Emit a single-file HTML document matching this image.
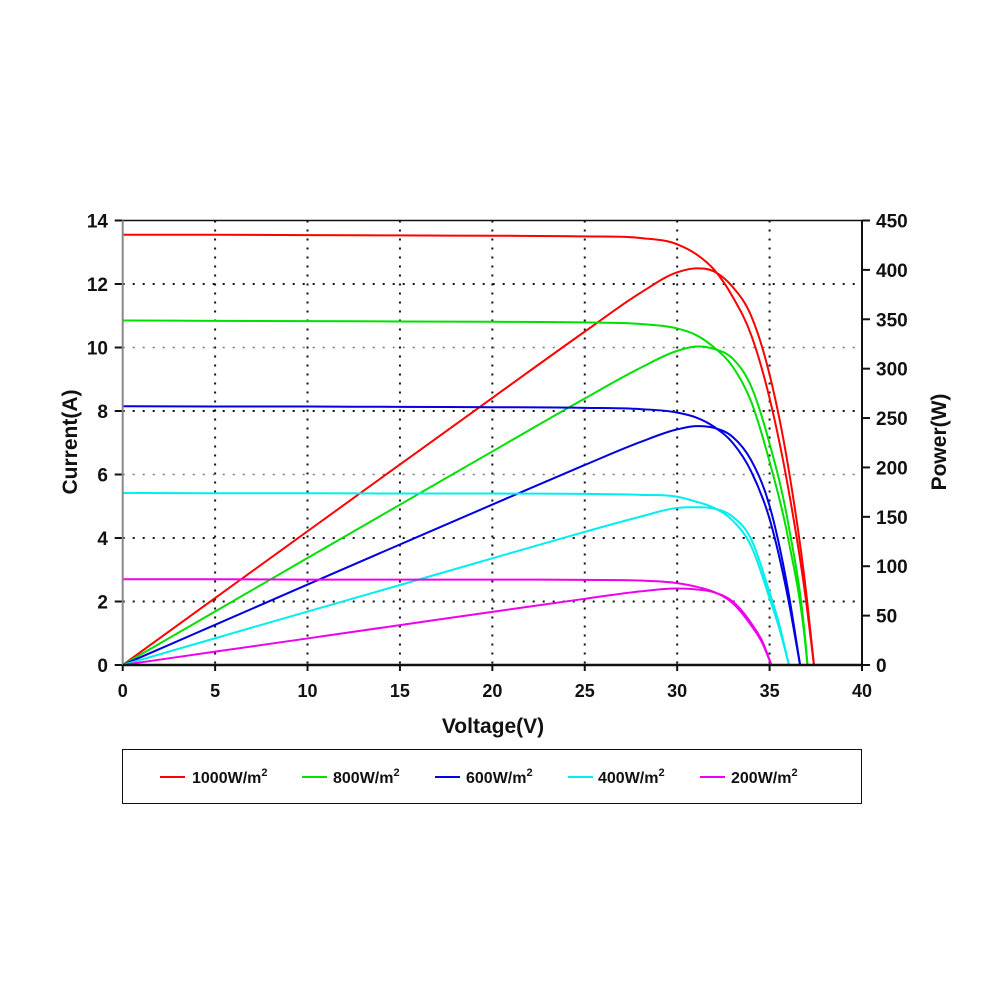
<!DOCTYPE html>
<html><head><meta charset="utf-8">
<style>
html,body{margin:0;padding:0;background:#fff;}
svg text{font-family:"Liberation Sans",Arial,sans-serif;font-weight:bold;fill:#111;}
</style></head>
<body>
<svg id="chart" width="1000" height="1000" viewBox="0 0 1000 1000" xmlns="http://www.w3.org/2000/svg">
<g id="grid"></g>
<g id="curves"></g>
<g id="axes"></g>
<text x="493" y="733" font-size="21" text-anchor="middle">Voltage(V)</text>
<text transform="translate(77,442) rotate(-90)" font-size="21" text-anchor="middle">Current(A)</text>
<text transform="translate(946,442) rotate(-90)" font-size="21" text-anchor="middle">Power(W)</text>
<g>
<rect x="122.5" y="749.5" width="739" height="54" fill="#fff" stroke="#111" stroke-width="1"/>
<g><line x1="160" y1="777" x2="185" y2="777" stroke="#ff0000" stroke-width="2"/><text x="192" y="783" font-size="16">1000W/m<tspan font-size="11" dy="-7">2</tspan></text></g>
<g><line x1="302" y1="777" x2="327" y2="777" stroke="#00e000" stroke-width="2"/><text x="333" y="783" font-size="16">800W/m<tspan font-size="11" dy="-7">2</tspan></text></g>
<g><line x1="435" y1="777" x2="460" y2="777" stroke="#0000e0" stroke-width="2"/><text x="466" y="783" font-size="16">600W/m<tspan font-size="11" dy="-7">2</tspan></text></g>
<g><line x1="568" y1="777" x2="593" y2="777" stroke="#00eeee" stroke-width="2"/><text x="598" y="783" font-size="16">400W/m<tspan font-size="11" dy="-7">2</tspan></text></g>
<g><line x1="700" y1="777" x2="725" y2="777" stroke="#ee00ee" stroke-width="2"/><text x="731" y="783" font-size="16">200W/m<tspan font-size="11" dy="-7">2</tspan></text></g>
</g>
</svg>
<script>
const xTicks=[0,5,10,15,20,25,30,35,40];
const iTicks=[0,2,4,6,8,10,12,14];
const pTicks=[0,50,100,150,200,250,300,350,400,450];
const seriesNames=["1000","800","600","400","200"];
const seriesColors=["#ff0000","#00e000","#0000e0","#00eeee","#ee00ee"];
const v1000=[0,5,10,15,20,25,28,30,31,32,33,34,35,36,37,37.4];
const i1000=[13.55,13.55,13.54,13.53,13.52,13.5,13.45,13.25,12.95,12.45,11.6,10.4,8.4,5.6,1.9,0];
const p1000=[0,67.8,135.4,203,270.4,337.5,376.6,397.5,401.5,398.4,382.8,353.6,294,201.6,70.3,0];
const v800=[0,5,10,15,20,25,28,30,31,32,33,34,35,36,37,37.05];
const i800=[10.85,10.84,10.83,10.82,10.81,10.79,10.74,10.6,10.4,10.0,9.4,8.3,6.4,4.0,0.3,0];
const p800=[0,54.2,108.3,162.3,216.2,269.8,300.7,318,322.4,320,310.2,282.2,224,144,11.1,0];
const v600=[0,5,10,15,20,25,28,30,31,32,33,34,35,36,36.65];
const i600=[8.15,8.14,8.14,8.13,8.12,8.1,8.06,7.95,7.8,7.5,7.0,6.1,4.6,2.1,0];
const p600=[0,40.7,81.4,122,162.4,202.5,225.7,238.5,241.8,240,231,207.4,161,75.6,0];
const v400=[0,5,10,15,20,25,28,30,31,32,33,34,35,35.5,36.05];
const i400=[5.42,5.41,5.41,5.4,5.4,5.39,5.36,5.3,5.15,4.95,4.55,3.75,2.1,1.2,0];
const p400=[0,27.1,54.1,81,108,134.8,150.1,159,159.7,158.4,150.2,127.5,73.5,42.6,0];
const v200=[0,5,10,15,20,25,28,30,31,32,33,34,34.6,35.1];
const i200=[2.7,2.7,2.69,2.69,2.69,2.68,2.66,2.58,2.47,2.3,1.95,1.25,0.7,0];
const p200=[0,13.5,26.9,40.4,53.8,67,74.5,77.4,76.6,73.6,64.4,42.5,24.2,0];

const X0=122.7,X1=862,Y0=665,Y1=220.5;
const xS=v=>X0+(v/40)*(X1-X0);
const iS=a=>Y0-(a/14)*(Y0-Y1);
const pS=w=>Y0-(w/450)*(Y0-Y1);
const NS="http://www.w3.org/2000/svg";
function mk(tag,attrs,parent){const e=document.createElementNS(NS,tag);for(const k in attrs)e.setAttribute(k,attrs[k]);parent.appendChild(e);return e;}
const grid=document.getElementById('grid'),axes=document.getElementById('axes'),curves=document.getElementById('curves');

xTicks.forEach(t=>{
  const x=xS(t);
  if(t>0&&t<40){const g=mk('line',{x1:x,y1:Y1,x2:x,y2:Y0,stroke:'#111','stroke-width':2,'stroke-dasharray':'2 7'},grid);
  
  }
  const tk=mk('line',{x1:x,y1:Y0,x2:x,y2:Y0+6,stroke:'#111','stroke-width':2},axes);
  
  
  const tx=mk('text',{x:x,y:697,'font-size':18,'text-anchor':'middle'},axes);tx.textContent=t;
  
  
});
iTicks.forEach(t=>{
  const y=iS(t);
  if(t>0&&t<14){const light=(t===6||t===10);const g=mk('line',{x1:X0,y1:y,x2:X1,y2:y,stroke:light?'#777':'#111','stroke-width':light?1.5:2,'stroke-dasharray':'2 8'},grid);
  
  }
  const tk=mk('line',{x1:X0-8,y1:y,x2:X0,y2:y,stroke:'#111','stroke-width':2},axes);
  
  
  const tx=mk('text',{x:108,y:y+7,'font-size':19,'text-anchor':'end'},axes);tx.textContent=t;
  
  
});
pTicks.forEach(t=>{
  const y=pS(t);
  const tk=mk('line',{x1:X1,y1:y,x2:X1+8,y2:y,stroke:'#111','stroke-width':2},axes);
  
  
  const tx=mk('text',{x:876,y:y+7,'font-size':19},axes);tx.textContent=t;
  
  
});
const fr=mk('line',{x1:X0,y1:Y1,x2:X1,y2:Y1,stroke:'#111','stroke-width':1.5},axes);

const la=mk('line',{x1:X0,y1:Y1,x2:X0,y2:Y0,stroke:'#888','stroke-width':2},axes);

const ra=mk('line',{x1:X1,y1:Y1,x2:X1,y2:Y0,stroke:'#111','stroke-width':2},axes);

const ba=mk('line',{x1:X0,y1:Y0,x2:X1,y2:Y0,stroke:'#111','stroke-width':2.5},axes);


function smoothPath(xs,ys){
  const n=xs.length,d=[],m=[];
  for(let i=0;i<n-1;i++)d.push((ys[i+1]-ys[i])/(xs[i+1]-xs[i]));
  for(let i=0;i<n;i++){
    if(i===0)m.push(d[0]);else if(i===n-1)m.push(d[n-2]);
    else{const h0=xs[i]-xs[i-1],h1=xs[i+1]-xs[i];m.push((d[i-1]*h1+d[i]*h0)/(h0+h1));}
  }
  let p='M'+xs[0].toFixed(2)+','+ys[0].toFixed(2);
  for(let i=0;i<n-1;i++){
    const h=(xs[i+1]-xs[i])/3;
    p+=' C'+(xs[i]+h).toFixed(2)+','+(ys[i]+m[i]*h).toFixed(2)+' '+(xs[i+1]-h).toFixed(2)+','+(ys[i+1]-m[i+1]*h).toFixed(2)+' '+xs[i+1].toFixed(2)+','+ys[i+1].toFixed(2);
  }
  return p;
}
const V=[v1000,v800,v600,v400,v200],I=[i1000,i800,i600,i400,i200],P=[p1000,p800,p600,p400,p200];
for(let s=0;s<5;s++){
  const xs=V[s].map(xS);
  const a=mk('path',{d:smoothPath(xs,I[s].map(iS)),fill:'none',stroke:seriesColors[s],'stroke-width':2},curves);
  
  
  const b=mk('path',{d:smoothPath(xs,P[s].map(pS)),fill:'none',stroke:seriesColors[s],'stroke-width':2},curves);
  
  
}
</script>
</body></html>
